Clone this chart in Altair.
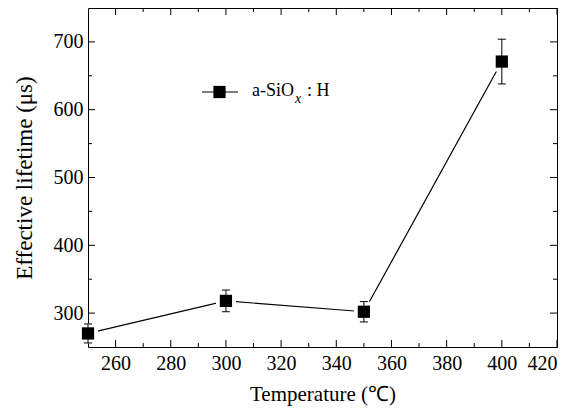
import altair as alt
import pandas as pd

# Data
temps = [250, 300, 350, 400]
lifetimes = [270, 318, 302, 671]
errors = [14, 16, 15, 33]

x_major = [260, 280, 300, 320, 340, 360, 380, 400, 420]
x_minor = [270, 290, 310, 330, 350, 370, 390, 410]
y_major = [300, 400, 500, 600, 700]
y_minor = [350, 450, 550, 650]

W, H = 469, 339
FONT = "Liberation Serif"

df = pd.DataFrame({"t": temps, "v": lifetimes, "e": errors})
df["lo"] = df["v"] - df["e"]
df["hi"] = df["v"] + df["e"]

xs = alt.Scale(domain=[250, 420], nice=False, zero=False)
ys = alt.Scale(domain=[250, 750], nice=False, zero=False)

axis_style = dict(ticks=False, domain=False, grid=False,
                  labelFont=FONT, labelFontSize=20, labelColor="black",
                  titleFont=FONT, titleColor="black", titleFontWeight="normal")

X = alt.X("t:Q", scale=xs, axis=alt.Axis(values=x_major, title="Temperature (℃)", titleFontSize=21,
                                          labelPadding=6, titlePadding=10, **axis_style))
Y = alt.Y("v:Q", scale=ys, axis=alt.Axis(values=y_major, title="Effective lifetime (μs)", titleFontSize=23,
                                          labelPadding=5, titlePadding=17, **axis_style))

base = alt.Chart(df)
line = base.mark_line(color="black", strokeWidth=1.2).encode(x=X, y=Y)
white = base.mark_point(shape="square", filled=True, color="white", opacity=1, size=400, strokeWidth=0).encode(
    x=alt.X("t:Q", scale=xs), y=alt.Y("v:Q", scale=ys))
err = base.mark_rule(color="black", strokeWidth=1, opacity=1).encode(
    x=alt.X("t:Q", scale=xs), y=alt.Y("lo:Q", scale=ys), y2="hi:Q")
cap_lo = base.mark_tick(orient="horizontal", size=8, thickness=1, color="black", opacity=1).encode(
    x=alt.X("t:Q", scale=xs), y=alt.Y("lo:Q", scale=ys))
cap_hi = base.mark_tick(orient="horizontal", size=8, thickness=1, color="black", opacity=1).encode(
    x=alt.X("t:Q", scale=xs), y=alt.Y("hi:Q", scale=ys))
pts = base.mark_point(shape="square", filled=True, color="black", opacity=1, size=150, strokeWidth=0).encode(
    x=alt.X("t:Q", scale=xs), y=alt.Y("v:Q", scale=ys))


def xticks(vals, ln):
    d = alt.Chart(pd.DataFrame({"t": vals}))
    b = d.mark_rule(color="black", strokeWidth=1).encode(x=alt.X("t:Q", scale=xs), y=alt.value(H), y2=alt.value(H - ln))
    tp = d.mark_rule(color="black", strokeWidth=1).encode(x=alt.X("t:Q", scale=xs), y=alt.value(0), y2=alt.value(ln))
    return b + tp


def yticks(vals, ln):
    d = alt.Chart(pd.DataFrame({"v": vals}))
    l = d.mark_rule(color="black", strokeWidth=1).encode(y=alt.Y("v:Q", scale=ys), x=alt.value(0), x2=alt.value(ln))
    r = d.mark_rule(color="black", strokeWidth=1).encode(y=alt.Y("v:Q", scale=ys), x=alt.value(W), x2=alt.value(W - ln))
    return l + r


one = alt.Chart(pd.DataFrame({"a": [0]}))
leg_line = one.mark_rule(color="black", strokeWidth=1.2).encode(x=alt.value(114), x2=alt.value(150), y=alt.value(84))
leg_pt = one.mark_point(shape="square", filled=True, color="black", opacity=1, size=150, strokeWidth=0).encode(
    x=alt.value(131.5), y=alt.value(84))
leg_t1 = one.mark_text(text="a-SiO", font=FONT, fontSize=18, align="left", baseline="alphabetic", color="black").encode(
    x=alt.value(164), y=alt.value(88))
leg_t2 = one.mark_text(text="x", font=FONT, fontSize=14, fontStyle="italic", align="left", baseline="alphabetic",
                       color="black").encode(x=alt.value(207), y=alt.value(95))
leg_t3 = one.mark_text(text=": H", font=FONT, fontSize=18, align="left", baseline="alphabetic", color="black").encode(
    x=alt.value(219), y=alt.value(88))

chart = alt.layer(
    line, white, err, cap_lo, cap_hi, pts,
    xticks(x_major, 7), xticks(x_minor, 4), yticks(y_major, 7), yticks(y_minor, 4),
    leg_line, leg_pt, leg_t1, leg_t2, leg_t3,
).properties(
    width=W, height=H,
    background="white",
    autosize=alt.AutoSizeParams(type="none"),
    padding={"left": 80, "top": 0, "right": 15, "bottom": 60},
).configure_view(
    stroke="black", strokeWidth=1
)

chart.save("out.html", embed_options={"renderer": "svg", "actions": False})
